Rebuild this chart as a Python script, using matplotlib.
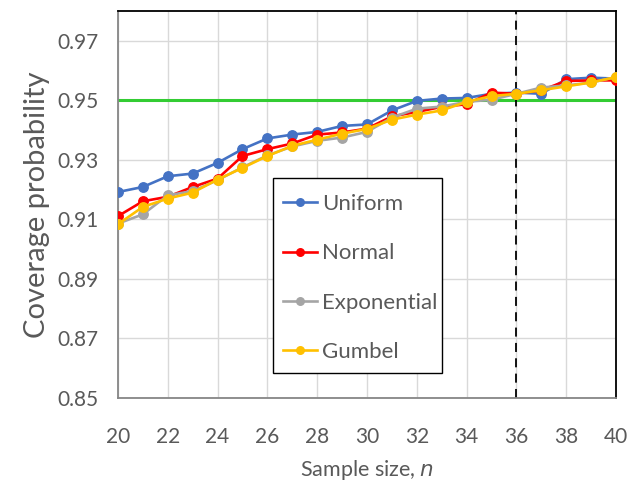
import numpy as np
import matplotlib
matplotlib.use('Agg')
import matplotlib.pyplot as plt
from matplotlib.patches import Rectangle

plt.rcParams['font.family'] = ['Lato', 'DejaVu Sans']

n = np.arange(20, 41)

uniform = [0.9192, 0.9209, 0.9245, 0.9254, 0.9290, 0.9336, 0.9372, 0.9385, 0.9394, 0.9414, 0.9419,
           0.9466, 0.9498, 0.9506, 0.9508, 0.9522, 0.9526, 0.9522, 0.9571, 0.9576, 0.9573]
normal = [0.9111, 0.9161, 0.9176, 0.9209, 0.9237, 0.9313, 0.9336, 0.9355, 0.9385, 0.9392, 0.9405,
          0.9446, 0.9461, 0.9478, 0.9487, 0.9526, 0.9522, 0.9534, 0.9565, 0.9567, 0.9567]
expo = [0.9086, 0.9117, 0.9181, 0.9195, 0.9232, 0.9275, 0.9315, 0.9345, 0.9364, 0.9375, 0.9394,
        0.9442, 0.9472, 0.9479, 0.9495, 0.9502, 0.9522, 0.9543, 0.9550, 0.9560, 0.9578]
gumbel = [0.9084, 0.9142, 0.9170, 0.9190, 0.9234, 0.9273, 0.9313, 0.9347, 0.9368, 0.9388, 0.9404,
          0.9435, 0.9452, 0.9466, 0.9495, 0.9514, 0.9522, 0.9534, 0.9547, 0.9560, 0.9578]

names = ['Uniform', 'Normal', 'Exponential', 'Gumbel']
colors = ['#4472C4', '#FF0000', '#A5A5A5', '#FFC000']
target = 0.95
cut_n = 36

fig = plt.figure(figsize=(6.32, 4.88), dpi=100)
ax = fig.add_axes([0.1867, 0.1844, 0.788, 0.793])

for x in range(20, 41, 2):
    ax.axvline(x, color='#D9D9D9', lw=1, zorder=0)
for y in np.arange(0.85, 0.971, 0.02):
    ax.axhline(y, color='#D9D9D9', lw=1, zorder=0)

ax.axhline(target, color='#33CC33', lw=2.2, zorder=1)
ax.axvline(cut_n, color='black', lw=1.3, ls=(0, (5, 3.5)), zorder=1)

for vals, name, c in zip([uniform, normal, expo, gumbel], names, colors):
    ax.plot(n, vals, color=c, lw=1.9, marker='o', markersize=6.8, label=name, zorder=3)

ax.set_xlim(20, 40)
ax.set_ylim(0.85, 0.98)
ax.set_xticks(range(20, 41, 2))
ax.set_yticks(np.arange(0.85, 0.971, 0.02))
ax.set_yticklabels(['%.2f' % v for v in np.arange(0.85, 0.971, 0.02)])
ax.tick_params(axis='y', length=0, labelsize=15, colors='#595959', pad=14)
ax.tick_params(axis='x', length=0, labelsize=15, colors='#595959', pad=21)

for s in ['top', 'right']:
    ax.spines[s].set_color('black')
    ax.spines[s].set_linewidth(1.3)
for s in ['left', 'bottom']:
    ax.spines[s].set_color('#868686')
    ax.spines[s].set_linewidth(1.3)

ax.set_ylabel('Coverage probability', fontsize=21, color='#595959', labelpad=5)
ax.set_xlabel('Sample size, $\\it{n}$', fontsize=15.5, color='#595959', labelpad=8)

# legend box drawn separately so the padding matches
ax.add_patch(Rectangle((0.3112, 0.0646), 0.3394, 0.5039, transform=ax.transAxes,
                       facecolor='white', edgecolor='black', lw=1.0, zorder=4))
leg = ax.legend(loc='upper left', bbox_to_anchor=(0.3313, 0.527), fontsize=16, frameon=False,
                labelspacing=1.32, handlelength=1.53, handletextpad=0.22, borderpad=0,
                borderaxespad=0, markerscale=0.8)
leg.set_zorder(5)
for t in leg.get_texts():
    t.set_color('#595959')

fig.savefig('out.png', dpi=100)
